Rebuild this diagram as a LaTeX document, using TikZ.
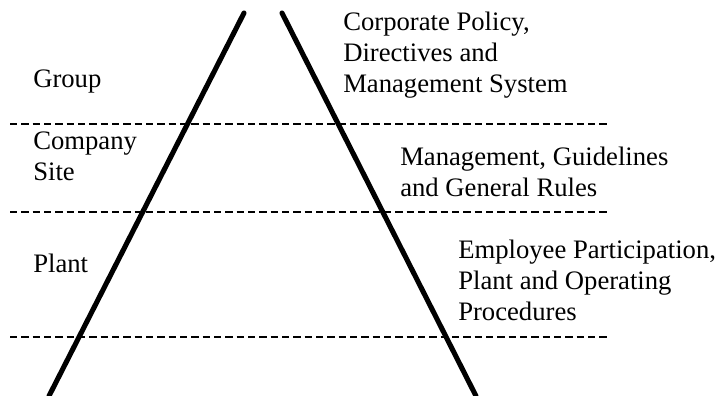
\documentclass[tikz,border=0pt]{standalone}
\usepackage{fontspec}
\setmainfont{Liberation Serif}
\usepackage{tikz}
\tikzset{
    side/.style={line width=3.8pt,line cap=round},
    level/.style={line width=0.9pt,dash pattern=on 5.5pt off 3pt},
    layer/.style={anchor=base west,inner sep=0pt,align=left,
        font=\fontsize{20}{23}\selectfont}
}

\begin{document}
\begin{tikzpicture}[x=0.75pt,y=-0.75pt]
    \useasboundingbox (0,0) rectangle (715,396);
    % sides of the pyramid
    \coordinate (topL) at (244,13);
    \coordinate (botL) at (49,396);
    \coordinate (topR) at (282,13);
    \coordinate (botR) at (476,396);
    \draw[side] (topL) -- (botL);
    \draw[side] (topR) -- (botR);
    % borders between the levels
    \foreach \y/\n in {124/a,212/b,337/c}{
        \coordinate (start\n) at (10,\y);
        \coordinate (end\n) at (608,\y);
        \draw[level] (start\n) -- (end\n);
    }
    % labels, placed at the baseline of their last line
    \node[layer] (group) at (33,87) {Group};
    \node[layer] (company) at (33,180) {Company\\Site};
    \node[layer] (plant) at (33,272) {Plant};
    \node[layer] (policy) at (343,92) {Corporate Policy,\\Directives and\\Management System};
    \node[layer] (rules) at (400,196) {Management, Guidelines\\and General Rules};
    \node[layer] (procedures) at (458,320) {Employee Participation,\\Plant and Operating\\Procedures};
\end{tikzpicture}
\end{document}
